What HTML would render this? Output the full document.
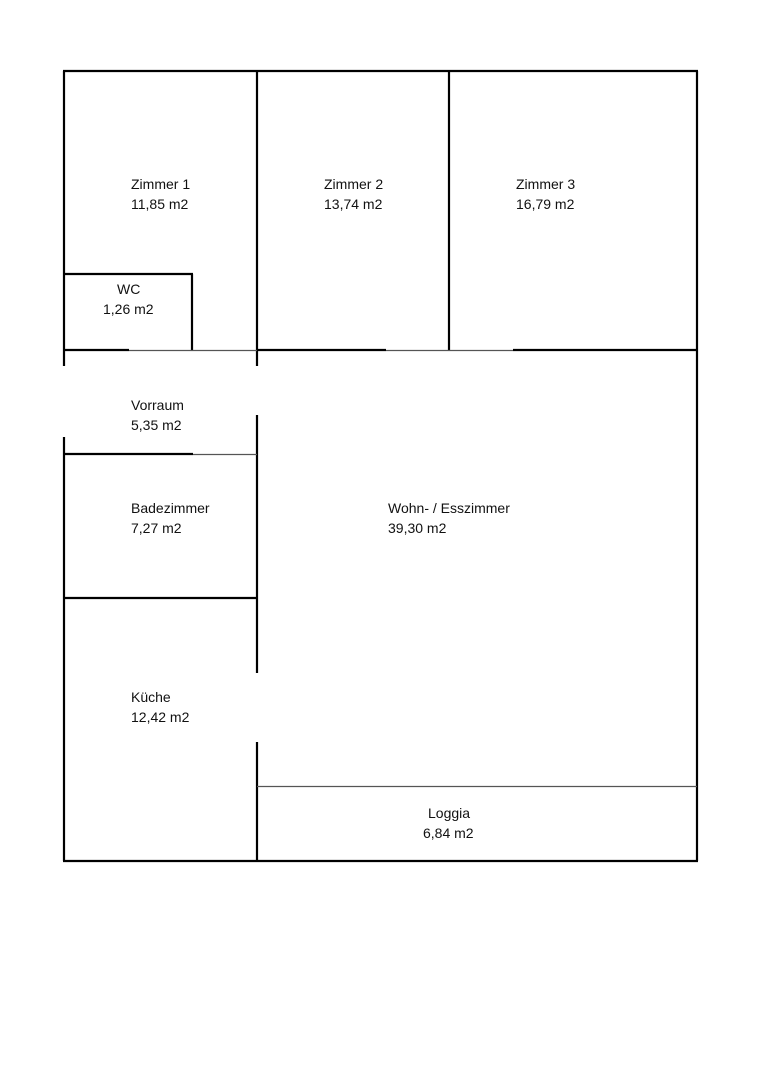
<!DOCTYPE html>
<html><head><meta charset="utf-8"><style>
body{margin:0;background:#fff;width:764px;height:1080px;position:relative;overflow:hidden}
svg{position:absolute;left:0;top:0}
.t{position:absolute;font-family:"Liberation Sans",sans-serif;font-size:14px;line-height:20px;color:#111;white-space:nowrap}
</style></head><body>
<svg width="764" height="1080">
<g stroke="#000" stroke-width="2.2" fill="none">
<line x1="63" y1="71" x2="698" y2="71"/>
<line x1="63" y1="861" x2="698" y2="861"/>
<line x1="697" y1="71" x2="697" y2="861"/>
<line x1="64" y1="71" x2="64" y2="366"/>
<line x1="64" y1="437" x2="64" y2="861"/>
<line x1="257" y1="71" x2="257" y2="366"/>
<line x1="257" y1="415" x2="257" y2="673"/>
<line x1="257" y1="742" x2="257" y2="861"/>
<line x1="449" y1="71" x2="449" y2="350"/>
<line x1="64" y1="274" x2="193" y2="274"/>
<line x1="192" y1="274" x2="192" y2="350"/>
<line x1="64" y1="350" x2="129" y2="350"/>
<line x1="257" y1="350" x2="386" y2="350"/>
<line x1="513" y1="350" x2="697" y2="350"/>
<line x1="64" y1="454" x2="193" y2="454"/>
<line x1="64" y1="598" x2="257" y2="598"/>
</g>
<g stroke="#555" stroke-width="1.2">
<line x1="129" y1="350.5" x2="257" y2="350.5"/>
<line x1="386" y1="350.5" x2="513" y2="350.5"/>
<line x1="193" y1="454.5" x2="257" y2="454.5"/>
<line x1="257" y1="786.5" x2="697" y2="786.5"/>
</g>
</svg>
<div class="t" style="left:131px;top:174px">Zimmer 1<br>11,85 m2</div>
<div class="t" style="left:324px;top:174px">Zimmer 2<br>13,74 m2</div>
<div class="t" style="left:516px;top:174px">Zimmer 3<br>16,79 m2</div>
<div class="t" style="left:117px;top:279px">WC</div>
<div class="t" style="left:103px;top:299px">1,26 m2</div>
<div class="t" style="left:131px;top:395px">Vorraum<br>5,35 m2</div>
<div class="t" style="left:131px;top:498px">Badezimmer<br>7,27 m2</div>
<div class="t" style="left:388px;top:498px">Wohn- / Esszimmer<br>39,30 m2</div>
<div class="t" style="left:131px;top:687px">Küche<br>12,42 m2</div>
<div class="t" style="left:428px;top:803px">Loggia</div>
<div class="t" style="left:423px;top:823px">6,84 m2</div>
</body></html>
